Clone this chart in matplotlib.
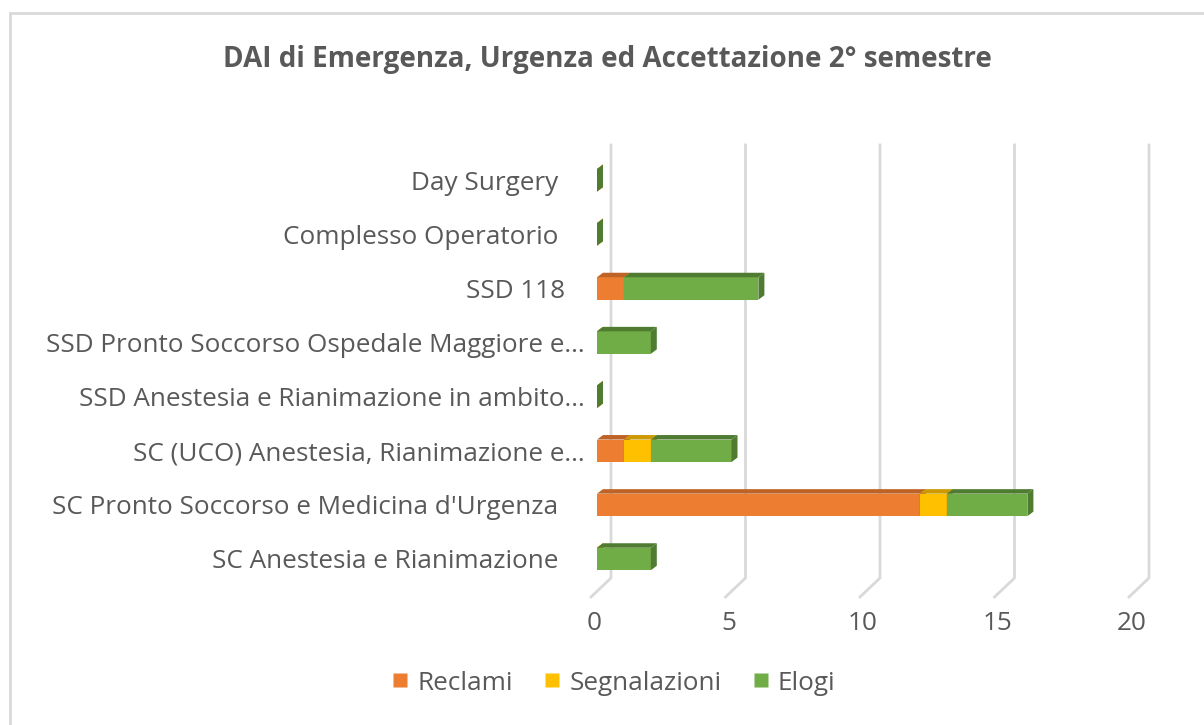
import matplotlib
matplotlib.use("Agg")
import matplotlib.pyplot as plt
from matplotlib.patches import Polygon, Rectangle
from matplotlib.lines import Line2D
import numpy as np

plt.rcParams['font.family'] = ['Open Sans', 'DejaVu Sans']

title = "DAI di Emergenza, Urgenza ed Accettazione 2° semestre"
categories = [
    "SC Anestesia e Rianimazione    ",
    "SC Pronto Soccorso e Medicina d'Urgenza    ",
    "SC (UCO) Anestesia, Rianimazione e...",
    "SSD Anestesia e Rianimazione in ambito...",
    "SSD Pronto Soccorso Ospedale Maggiore e...",
    "SSD 118   ",
    "Complesso Operatorio    ",
    "Day Surgery    ",
]
series_names = ["Reclami", "Segnalazioni", "Elogi"]
reclami = [0, 12, 1, 0, 0, 1, 0, 0]
segnalazioni = [0, 1, 1, 0, 0, 0, 0, 0]
elogi = [2, 3, 3, 0, 2, 5, 0, 0]
x_ticks = [0, 5, 10, 15, 20]

front_colors = ["#ED7D31", "#FFC000", "#70AD47"]
shade_colors = ["#BE6226", "#CC9A00", "#4F7C31"]
text_color = "#595959"
grid_color = "#D9D9D9"
fs = 18.8

W, H, DPI = 1204, 725, 100
fig = plt.figure(figsize=(W / DPI, H / DPI), dpi=DPI)

# chart frame (open towards right and bottom)
fig.patches.append(Rectangle((10 / W, -0.2), 1.5, 1.2 - 13 / H, transform=fig.transFigure,
                             fill=False, edgecolor=grid_color, linewidth=2))

# plot area in pixels
px_x = 26.9   # pixels per value unit
px_y = 54.1   # pixels per category
left_px, right_px = 597, 1160
top_px, bot_px = 140, 600
center0_px = 559
ax = fig.add_axes([left_px / W, 1 - bot_px / H, (right_px - left_px) / W, (bot_px - top_px) / H])
for s in ax.spines.values():
    s.set_visible(False)
ax.set_facecolor("none")

def ux(p):
    return p / px_x

def uy(p):
    return p / px_y

def ypix(p):
    # figure row (pixels from top) -> data y
    return (center0_px - p) / px_y

# back-wall gridlines with floor return
wall_top, wall_bot, floor_front = ypix(145), ypix(578), ypix(597)
for v in x_ticks:
    xb = v + ux(14)
    xf = v - ux(6)
    ax.add_line(Line2D([xb, xb, xf], [wall_top, wall_bot, floor_front], color=grid_color,
                       linewidth=2, clip_on=False, zorder=1, solid_joinstyle='round'))
    ax.text(v - ux(3), ypix(623), str(v), ha='center', va='center', fontsize=fs,
            color=text_color, clip_on=False)

# stacked 3D-style bars
bar_h = uy(22.5)
dx, dy = ux(6), uy(4.5)
ypos = np.arange(len(categories))
data = [reclami, segnalazioni, elogi]
left = np.zeros(len(categories))
z = 3
for k, vals in enumerate(data):
    vals = np.array(vals, dtype=float)
    bars = ax.barh(ypos, vals, left=left, height=bar_h, color=front_colors[k],
                   linewidth=0, zorder=z, label=series_names[k])
    for b in bars:
        x0 = b.get_x()
        x1 = x0 + b.get_width()
        y0 = b.get_y()
        y1 = y0 + b.get_height()
        top = Polygon([(x0, y1), (x1, y1), (x1 + dx, y1 + dy), (x0 + dx, y1 + dy)],
                      closed=True, facecolor=shade_colors[k], edgecolor='none', zorder=z)
        side = Polygon([(x1, y0), (x1, y1), (x1 + dx, y1 + dy), (x1 + dx, y0 + dy)],
                       closed=True, facecolor=shade_colors[k], edgecolor='none', zorder=z + 0.5)
        ax.add_patch(top)
        ax.add_patch(side)
    left = left + vals
    z += 1

ax.set_yticks(ypos)
ax.set_yticklabels(categories, fontsize=fs, color=text_color)
ax.tick_params(axis='y', length=0, pad=8.6)
ax.set_xticks([])

ax.set_xlim(0, (right_px - left_px) / px_x)
ax.set_ylim(ypix(bot_px), ypix(top_px))

fig.text(607 / W, 1 - 60 / H, title, ha='center', va='center', fontsize=20,
         fontweight='bold', color=text_color)

handles = [Line2D([], [], marker='s', linestyle='none', markersize=10.5,
                  markerfacecolor=c, markeredgecolor='none') for c in front_colors]
fig.legend(handles, series_names, loc='center', bbox_to_anchor=(614 / W, 1 - 683 / H),
           ncol=3, frameon=False, fontsize=fs, labelcolor=text_color,
           handletextpad=0.36, columnspacing=1.2, handlelength=0.6,
           borderpad=0, borderaxespad=0)

fig.savefig("out.png", dpi=DPI)
